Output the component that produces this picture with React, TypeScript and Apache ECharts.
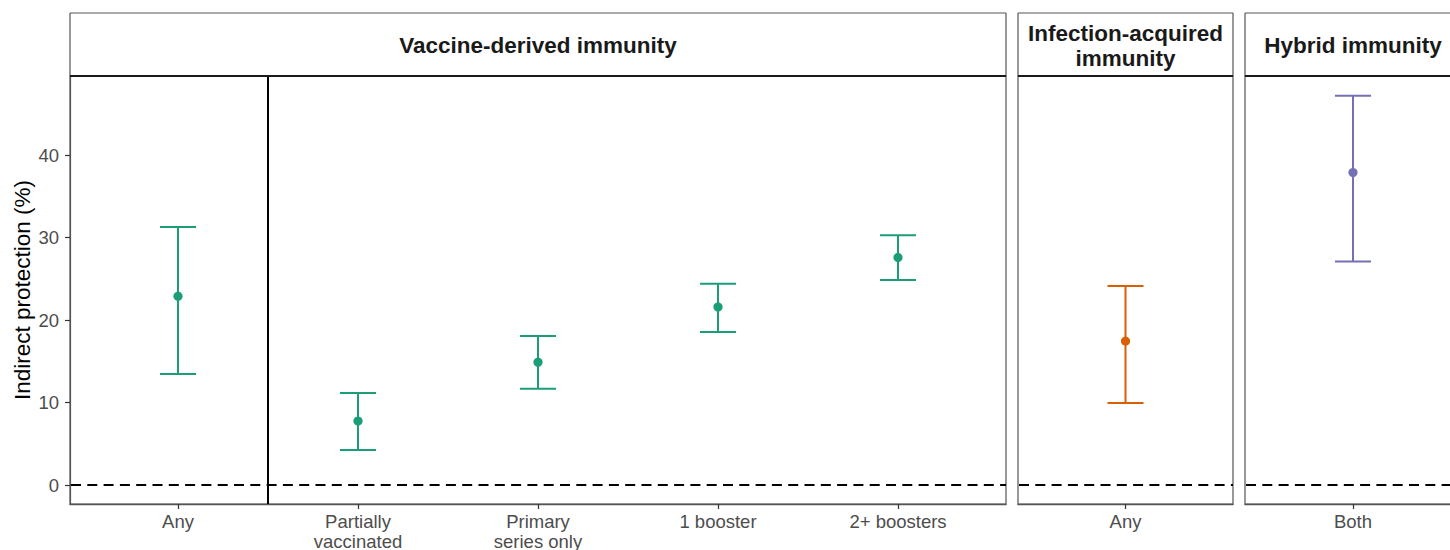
import React, { useEffect, useRef } from "react";
import * as echarts from "echarts";

const vaccineCats = ["Any", "Partially\nvaccinated", "Primary\nseries only", "1 booster", "2+ boosters"];
const vaccineEst = [22.9, 7.76, 14.9, 21.6, 27.6];
const vaccineLow = [13.45, 4.24, 11.67, 18.55, 24.85];
const vaccineHigh = [31.3, 11.15, 18.06, 24.4, 30.3];

const infectionCats = ["Any"];
const infectionEst = [17.45];
const infectionLow = [9.95];
const infectionHigh = [24.15];

const hybridCats = ["Both"];
const hybridEst = [37.9];
const hybridLow = [27.1];
const hybridHigh = [47.2];

const yTicks = [0, 10, 20, 30, 40];
const yMin = -2.3;
const yMax = 49.6;
const zeroLine = 0;
const separatorX = 1.5;

const FONT = "Liberation Sans, Arial, Helvetica, sans-serif";
const GREEN = "#1B9E77";
const ORANGE = "#D95F02";
const PURPLE = "#7570B3";

function buildData(low: number[], high: number[], est: number[]) {
  return est.map((e, i) => [i + 1, low[i], high[i], e]);
}

function errorSeries(gridIndex: number, color: string, data: number[][]) {
  return {
    type: "custom",
    xAxisIndex: gridIndex,
    yAxisIndex: gridIndex,
    data,
    encode: { x: 0, y: [1, 2, 3] },
    z: 5,
    renderItem: (params: any, api: any) => {
      const x = api.value(0);
      const lo = api.coord([x, api.value(1)]);
      const hi = api.coord([x, api.value(2)]);
      const pe = api.coord([x, api.value(3)]);
      const half = 18;
      const st = { stroke: color, lineWidth: 2, fill: "none" };
      return {
        type: "group",
        children: [
          { type: "line", shape: { x1: lo[0], y1: lo[1], x2: hi[0], y2: hi[1] }, style: st },
          { type: "line", shape: { x1: hi[0] - half, y1: hi[1], x2: hi[0] + half, y2: hi[1] }, style: st },
          { type: "line", shape: { x1: lo[0] - half, y1: lo[1], x2: lo[0] + half, y2: lo[1] }, style: st },
          { type: "circle", shape: { cx: pe[0], cy: pe[1], r: 4.6 }, style: { fill: color } },
        ],
      };
    },
  };
}

function refLineSeries(gridIndex: number, withSeparator: boolean) {
  return {
    type: "custom",
    xAxisIndex: gridIndex,
    yAxisIndex: gridIndex,
    data: [[withSeparator ? separatorX : 1, zeroLine]],
    encode: { x: 0, y: 1 },
    z: 3,
    silent: true,
    renderItem: (params: any, api: any) => {
      const cs = params.coordSys;
      const p = api.coord([api.value(0), api.value(1)]);
      const children: any[] = [
        {
          type: "line",
          shape: { x1: cs.x + 1, y1: p[1], x2: cs.x + cs.width, y2: p[1] },
          style: { stroke: "#000", lineWidth: 2, lineDash: [10, 6.3], lineCap: "butt", fill: "none" },
        },
      ];
      if (withSeparator) {
        children.push({
          type: "line",
          shape: { x1: p[0], y1: cs.y, x2: p[0], y2: cs.y + cs.height },
          style: { stroke: "#000", lineWidth: 2, fill: "none" },
        });
      }
      return { type: "group", children };
    },
  };
}

function xAxis(gridIndex: number, cats: string[], max: number) {
  const vals = cats.map((_, i) => i + 1);
  return {
    type: "value",
    gridIndex,
    min: 0.4,
    max,
    splitLine: { show: false },
    axisLine: { show: true, onZero: false, lineStyle: { color: "#555", width: 1.4 } },
    axisTick: { show: true, length: 5, customValues: vals, lineStyle: { color: "#333", width: 1.2 } },
    axisLabel: {
      show: true,
      customValues: vals,
      margin: 8,
      color: "#4D4D4D",
      fontSize: 18.5,
      lineHeight: 19.5,
      fontFamily: FONT,
      verticalAlign: "top",
      formatter: (v: number) => cats[Math.round(v) - 1] ?? "",
    },
  };
}

function yAxis(gridIndex: number, show: boolean) {
  return {
    type: "value",
    gridIndex,
    min: yMin,
    max: yMax,
    show,
    splitLine: { show: false },
    axisLine: { show: true, onZero: false, lineStyle: { color: "#555", width: 1.2 } },
    axisTick: { show: true, length: 5, customValues: yTicks, lineStyle: { color: "#333", width: 1.2 } },
    axisLabel: {
      show: true,
      customValues: yTicks,
      margin: 11,
      color: "#4D4D4D",
      fontSize: 18.5,
      fontFamily: FONT,
    },
  };
}

// panel 3 runs past the right edge of the page in the reference
const panels = [
  { left: 70, width: 936, max: 5.6, rightBorder: true },
  { left: 1018, width: 215, max: 1.6, rightBorder: true },
  { left: 1245, width: 216, max: 1.6, rightBorder: false },
];
const TOP = 76;
const HEIGHT = 428;
const STRIP_TOP = 13;

export default function App() {
  const ref = useRef<HTMLDivElement>(null);
  useEffect(() => {
    document.body.style.margin = "0";
    if (!ref.current) return;
    const chart = echarts.init(ref.current, undefined, { renderer: "svg" });

    const stripTexts = ["Vaccine-derived immunity", "Infection-acquired\nimmunity", "Hybrid immunity"];
    const graphics: any[] = [];
    const border = { stroke: "#555", lineWidth: 1.2 };
    panels.forEach((p, i) => {
      const r = p.left + p.width;
      graphics.push({
        type: "rect",
        shape: { x: p.left, y: STRIP_TOP, width: p.width, height: TOP - STRIP_TOP },
        style: { fill: "#fff" },
        z: 1,
      });
      graphics.push({ type: "line", shape: { x1: p.left, y1: STRIP_TOP, x2: r, y2: STRIP_TOP }, style: border, z: 2 });
      graphics.push({ type: "line", shape: { x1: p.left, y1: STRIP_TOP, x2: p.left, y2: TOP }, style: border, z: 2 });
      if (p.rightBorder) {
        graphics.push({ type: "line", shape: { x1: r, y1: STRIP_TOP, x2: r, y2: TOP }, style: border, z: 2 });
      }
      graphics.push({
        type: "line",
        shape: { x1: p.left, y1: TOP, x2: r, y2: TOP },
        style: { stroke: "#1a1a1a", lineWidth: 2 },
        z: 10,
      });
      graphics.push({
        type: "text",
        x: p.left + p.width / 2,
        y: (STRIP_TOP + TOP) / 2 + 1,
        style: {
          text: stripTexts[i],
          fontSize: 22.5,
          fontWeight: "bold",
          fontFamily: FONT,
          fill: "#1A1A1A",
          align: "center",
          verticalAlign: "middle",
          lineHeight: 25,
        },
        z: 11,
      });
    });
    graphics.push({
      type: "text",
      x: 22,
      y: 290,
      rotation: Math.PI / 2,
      style: {
        text: "Indirect protection (%)",
        fontSize: 22.5,
        fontFamily: FONT,
        fill: "#000",
        align: "center",
        verticalAlign: "middle",
      },
    });

    chart.setOption({
      animation: false,
      backgroundColor: "#fff",
      grid: panels.map((p) => ({
        left: p.left,
        top: TOP,
        width: p.width,
        height: HEIGHT,
        show: true,
        borderColor: "#555",
        borderWidth: 1.2,
        backgroundColor: "#fff",
        containLabel: false,
        outerBoundsMode: "none",
      })),
      xAxis: [
        xAxis(0, vaccineCats, panels[0].max),
        xAxis(1, infectionCats, panels[1].max),
        xAxis(2, hybridCats, panels[2].max),
      ],
      yAxis: [yAxis(0, true), yAxis(1, false), yAxis(2, false)],
      series: [
        refLineSeries(0, true),
        refLineSeries(1, false),
        refLineSeries(2, false),
        errorSeries(0, GREEN, buildData(vaccineLow, vaccineHigh, vaccineEst)),
        errorSeries(1, ORANGE, buildData(infectionLow, infectionHigh, infectionEst)),
        errorSeries(2, PURPLE, buildData(hybridLow, hybridHigh, hybridEst)),
      ],
      graphic: graphics,
    });
    return () => chart.dispose();
  }, []);
  return <div ref={ref} style={{ width: 1450, height: 550 }} />;
}
